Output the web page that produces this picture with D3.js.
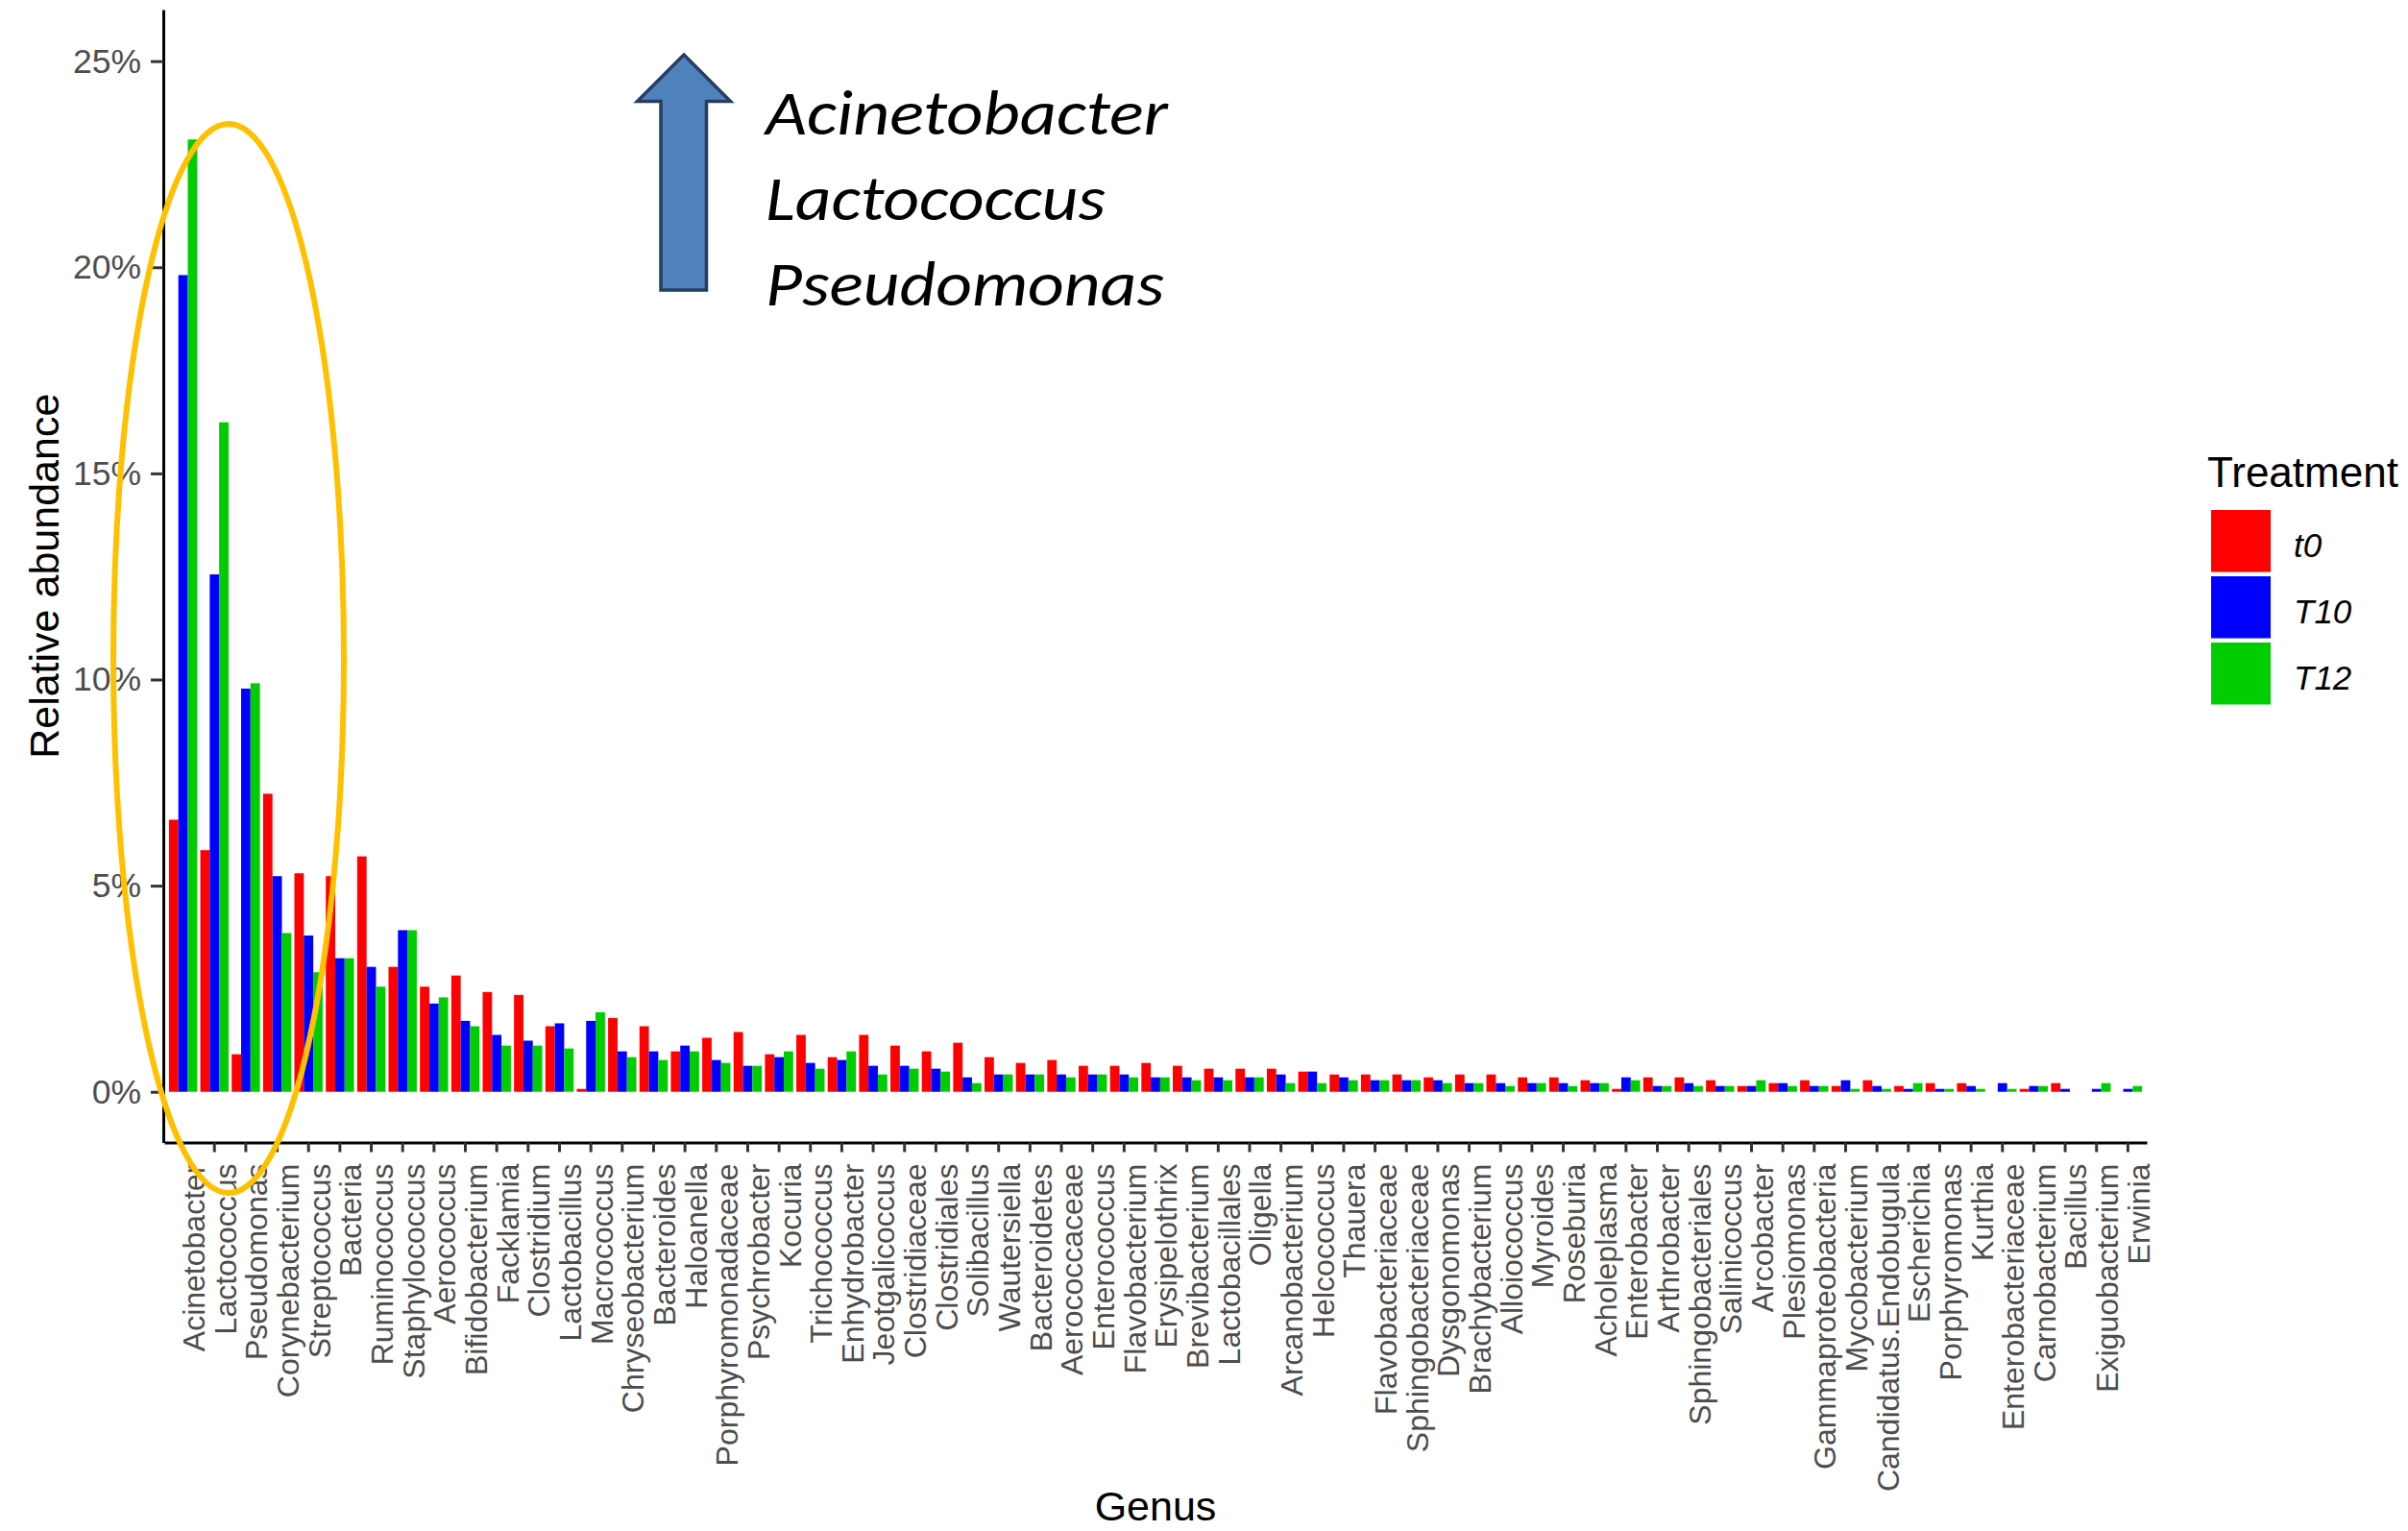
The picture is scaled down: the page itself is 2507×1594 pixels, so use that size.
<!DOCTYPE html>
<html>
<head>
<meta charset="utf-8">
<script src="https://cdn.jsdelivr.net/npm/d3@7"></script>
<style>
  html, body { margin: 0; padding: 0; background: #ffffff; }
  svg { display: block; }
</style>
</head>
<body>
<script>
// Genera, ordered by overall abundance
const genera = [
  "Acinetobacter","Lactococcus","Pseudomonas","Corynebacterium","Streptococcus","Bacteria",
  "Ruminococcus","Staphylococcus","Aerococcus","Bifidobacterium","Facklamia","Clostridium",
  "Lactobacillus","Macrococcus","Chryseobacterium","Bacteroides","Haloanella","Porphyromonadaceae",
  "Psychrobacter","Kocuria","Trichococcus","Enhydrobacter","Jeotgalicoccus","Clostridiaceae",
  "Clostridiales","Solibacillus","Wautersiella","Bacteroidetes","Aerococcaceae","Enterococcus",
  "Flavobacterium","Erysipelothrix","Brevibacterium","Lactobacillales","Oligella","Arcanobacterium",
  "Helcococcus","Thauera","Flavobacteriaceae","Sphingobacteriaceae","Dysgonomonas","Brachybacterium",
  "Alloiococcus","Myroides","Roseburia","Acholeplasma","Enterobacter","Arthrobacter",
  "Sphingobacteriales","Salinicoccus","Arcobacter","Plesiomonas","Gammaproteobacteria","Mycobacterium",
  "Candidatus.Endobugula","Escherichia","Porphyromonas","Kurthia","Enterobacteriaceae","Carnobacterium",
  "Bacillus","Exiguobacterium","Erwinia"
];

const treatments = ["t0", "T10", "T12"];

// Relative abundance (%) per genus and treatment
const t0Values = [
  6.60, 5.86, 0.91, 7.23, 5.30, 5.23, 5.71, 3.03, 2.55, 2.82, 2.42, 2.35,
  1.59, 0.07, 1.79, 1.59, 0.98, 1.31, 1.45, 0.91, 1.38, 0.84, 1.38, 1.12,
  0.98, 1.19, 0.84, 0.70, 0.77, 0.63, 0.63, 0.70, 0.63, 0.56, 0.56, 0.56,
  0.49, 0.42, 0.42, 0.42, 0.35, 0.42, 0.42, 0.35, 0.35, 0.28, 0.07, 0.35,
  0.35, 0.28, 0.14, 0.21, 0.28, 0.14, 0.28, 0.14, 0.21, 0.21, 0.00, 0.07,
  0.21, 0.00, 0.00
];
const t10Values = [
  19.81, 12.55, 9.78, 5.23, 3.79, 3.24, 3.03, 3.92, 2.14, 1.72, 1.38, 1.24,
  1.66, 1.72, 0.98, 0.98, 1.12, 0.77, 0.63, 0.84, 0.70, 0.77, 0.63, 0.63,
  0.56, 0.35, 0.42, 0.42, 0.42, 0.42, 0.42, 0.35, 0.35, 0.35, 0.35, 0.42,
  0.49, 0.35, 0.28, 0.28, 0.28, 0.21, 0.21, 0.21, 0.21, 0.21, 0.35, 0.14,
  0.21, 0.14, 0.14, 0.21, 0.14, 0.28, 0.14, 0.07, 0.07, 0.14, 0.21, 0.14,
  0.07, 0.07, 0.07
];
const t12Values = [
  23.10, 16.24, 9.91, 3.85, 2.90, 3.24, 2.55, 3.92, 2.29, 1.59, 1.12, 1.12,
  1.05, 1.93, 0.84, 0.77, 0.98, 0.70, 0.63, 0.98, 0.56, 0.98, 0.42, 0.56,
  0.49, 0.21, 0.42, 0.42, 0.35, 0.42, 0.35, 0.35, 0.28, 0.28, 0.35, 0.21,
  0.21, 0.28, 0.28, 0.28, 0.21, 0.21, 0.14, 0.21, 0.14, 0.21, 0.28, 0.14,
  0.14, 0.14, 0.28, 0.14, 0.14, 0.07, 0.07, 0.21, 0.07, 0.07, 0.07, 0.14,
  0.00, 0.21, 0.14
];

const yTickValues = [0, 5, 10, 15, 20, 25];
const treatmentColors = ["#FF0000", "#0000FF", "#00CD00"];
const risingGenera = ["Acinetobacter", "Lactococcus", "Pseudomonas"];

// ---- layout ----
const width = 2507, height = 1594;
const panel = { left: 171, right: 2235, top: 10, bottom: 1189.5 };
const font = "'Liberation Sans', Arial, Helvetica, sans-serif";

const svg = d3.select("body").append("svg")
  .attr("width", width).attr("height", height)
  .attr("viewBox", `0 0 ${width} ${height}`);

svg.append("rect").attr("width", width).attr("height", height).attr("fill", "#ffffff");

const x = d3.scaleBand()
  .domain(genera)
  .range([panel.left, panel.right])
  .paddingInner(0.1)
  .paddingOuter(0.15);

const xSub = d3.scaleBand()
  .domain(treatments)
  .range([0, x.bandwidth()]);

const y = d3.scaleLinear()
  .domain([-1.23, 26.25])
  .range([panel.bottom, panel.top]);

const color = d3.scaleOrdinal().domain(treatments).range(treatmentColors);

const series = { t0: t0Values, T10: t10Values, T12: t12Values };
const rows = genera.map((g, i) => ({
  genus: g,
  values: treatments.map(t => ({ treatment: t, value: series[t][i] }))
}));

// ---- bars ----
const groups = svg.append("g").attr("class", "bars")
  .selectAll("g").data(rows).join("g")
  .attr("transform", d => `translate(${x(d.genus)},0)`);

groups.selectAll("rect").data(d => d.values).join("rect")
  .attr("x", d => xSub(d.treatment))
  .attr("width", xSub.bandwidth())
  .attr("y", d => y(d.value))
  .attr("height", d => y(0) - y(d.value))
  .attr("fill", d => color(d.treatment));

// ---- y axis ----
const yAxis = svg.append("g")
  .attr("transform", `translate(${panel.left - 1},0)`)
  .call(d3.axisLeft(y).tickValues(yTickValues).tickFormat(d => d + "%")
    .tickSize(13).tickSizeOuter(0).tickPadding(10));
yAxis.select(".domain").attr("stroke", "#000").attr("stroke-width", 3);
yAxis.selectAll(".tick line").attr("stroke", "#333333").attr("stroke-width", 3);
yAxis.selectAll(".tick text")
  .attr("fill", "#4D4D4D")
  .style("font-family", font)
  .style("font-size", "35.5px");

// ---- x axis ----
const xAxis = svg.append("g")
  .attr("transform", `translate(0,${panel.bottom})`)
  .call(d3.axisBottom(x).tickSize(10).tickSizeOuter(0));
xAxis.select(".domain").attr("stroke", "#000").attr("stroke-width", 3);
xAxis.selectAll(".tick line").attr("stroke", "#333333").attr("stroke-width", 3);
xAxis.selectAll(".tick text")
  .attr("transform", "rotate(-90)")
  .attr("x", -22)
  .attr("y", 0)
  .attr("dy", "0.70em")
  .attr("text-anchor", "end")
  .attr("fill", "#4D4D4D")
  .style("font-family", font)
  .style("font-size", "32px");

// ---- axis titles ----
svg.append("text")
  .attr("transform", `translate(61,${(panel.top + panel.bottom) / 2}) rotate(-90)`)
  .attr("text-anchor", "middle")
  .style("font-family", font).style("font-size", "43px")
  .attr("fill", "#000")
  .text("Relative abundance");

svg.append("text")
  .attr("x", (panel.left + panel.right) / 2)
  .attr("y", 1583)
  .attr("text-anchor", "middle")
  .style("font-family", font).style("font-size", "43px")
  .attr("fill", "#000")
  .text("Genus");

// ---- legend ----
const legend = svg.append("g").attr("transform", "translate(2298,0)");
legend.append("text")
  .attr("x", 0).attr("y", 507)
  .style("font-family", font).style("font-size", "44px")
  .attr("fill", "#000")
  .text("Treatment");

const keys = legend.selectAll("g.key").data(treatments).join("g")
  .attr("class", "key")
  .attr("transform", (d, i) => `translate(0,${531 + i * 69})`);
keys.append("rect")
  .attr("x", 4).attr("width", 62).attr("height", 64.5)
  .attr("fill", d => color(d));
keys.append("text")
  .attr("x", 90).attr("y", 49)
  .style("font-family", font).style("font-size", "35px").style("font-style", "italic")
  .attr("fill", "#000")
  .text(d => d);

// ---- highlight of the rising genera ----
svg.append("ellipse")
  .attr("cx", 238).attr("cy", 685.5)
  .attr("rx", 120).attr("ry", 556.5)
  .attr("fill", "none")
  .attr("stroke", "#FFC000")
  .attr("stroke-width", 6);

// upward arrow
const arrowPts = [
  [712, 57], [760.5, 105.5], [735.5, 105.5], [735.5, 302],
  [688, 302], [688, 105.5], [663.5, 105.5]
];
svg.append("path")
  .attr("d", d3.line()(arrowPts) + "Z")
  .attr("fill", "#4F81BD")
  .attr("stroke", "#243F60")
  .attr("stroke-width", 3.5)
  .attr("stroke-linejoin", "miter");

const noteWidths = [419, 354, 415];
svg.append("g").selectAll("text").data(risingGenera).join("text")
  .attr("x", 797)
  .attr("y", (d, i) => 140 + i * 89)
  .attr("textLength", (d, i) => noteWidths[i])
  .attr("lengthAdjust", "spacingAndGlyphs")
  .style("font-family", "Carlito, Calibri, Lato, 'Open Sans', sans-serif")
  .style("font-style", "italic")
  .style("font-size", "66px")
  .attr("fill", "#000")
  .text(d => d);
</script>
</body>
</html>
